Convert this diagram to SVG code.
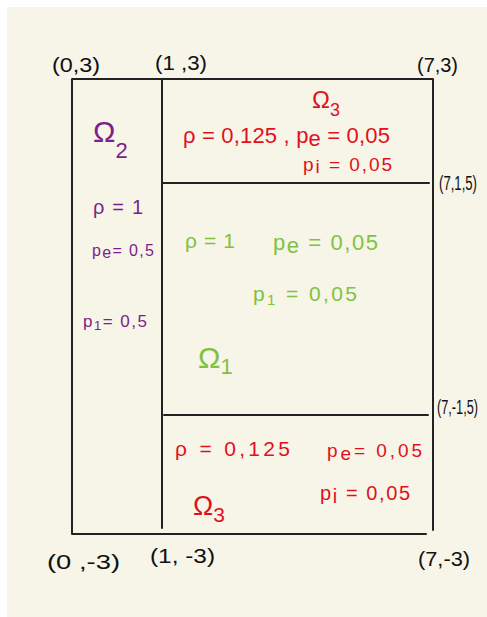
<svg xmlns="http://www.w3.org/2000/svg" width="487" height="617" viewBox="0 0 487 617">
<style>
text{font-family:"Liberation Sans","DejaVu Sans",sans-serif}
.k{fill:#111;font-size:20px}
.r{fill:#e0101c}
.g{fill:#7fc241}
.p{fill:#7c1f88}
.ln{stroke:#222;stroke-width:2;fill:none;stroke-linecap:round}
</style>
<rect x="0" y="0" width="487" height="617" fill="#ffffff"/>
<rect x="7" y="7" width="480" height="610" fill="#f7f4e8"/>
<g id="connectors">
<path class="ln" d="M72 79 H432 M72 79 V533 M72 534 H426 M433 79 V530"/>
<path class="ln" d="M162 79 V528"/>
<path class="ln" d="M163 183 H429"/>
<path class="ln" d="M164 415 H428"/>
</g>
<g id="coords">
<text class="k" x="52" y="72" textLength="48" lengthAdjust="spacingAndGlyphs">(0,3)</text>
<text class="k" x="155" y="70" textLength="52" lengthAdjust="spacingAndGlyphs">(1 ,3)</text>
<text class="k" x="417" y="72" textLength="41" lengthAdjust="spacingAndGlyphs">(7,3)</text>
<text class="k" x="439" y="190" font-size="18" textLength="38" lengthAdjust="spacingAndGlyphs">(7,1,5)</text>
<text class="k" x="437" y="414" font-size="18" textLength="41" lengthAdjust="spacingAndGlyphs">(7,-1,5)</text>
<text class="k" x="47" y="569" textLength="73" lengthAdjust="spacingAndGlyphs">(0 ,-3)</text>
<text class="k" x="150" y="563" textLength="65" lengthAdjust="spacingAndGlyphs">(1, -3)</text>
<text class="k" x="418" y="566" textLength="52" lengthAdjust="spacingAndGlyphs">(7,-3)</text>
</g>
<g id="omega2" class="p">
<text x="93" y="142" font-size="30">Ω<tspan dy="16" font-size="22">2</tspan></text>
<text x="93" y="214" font-size="20" textLength="50" lengthAdjust="spacing">ρ = 1</text>
<text x="92" y="256" font-size="16" textLength="62" lengthAdjust="spacing">p<tspan dy="2">e</tspan><tspan dy="-2">= 0,5</tspan></text>
<text x="83" y="327" font-size="17" textLength="64" lengthAdjust="spacing">p<tspan dy="3" font-size="13">1</tspan><tspan dy="-3">= 0,5</tspan></text>
</g>
<g id="omega1" class="g">
<text x="185" y="248" font-size="21" textLength="50" lengthAdjust="spacing">ρ = 1</text>
<text x="273" y="250" font-size="22" textLength="105" lengthAdjust="spacing">p<tspan dy="3">e</tspan><tspan dy="-3"> = 0,05</tspan></text>
<text x="253" y="301" font-size="21" textLength="104" lengthAdjust="spacing">p<tspan dy="4" font-size="15">1</tspan><tspan dy="-4"> = 0,05</tspan></text>
<text x="198" y="368" font-size="30">Ω<tspan dy="6" font-size="22">1</tspan></text>
</g>
<g id="omega3-top" class="r">
<text x="312" y="108" font-size="24">Ω<tspan dy="8" font-size="18">3</tspan></text>
<text x="183" y="143" font-size="22" textLength="207" lengthAdjust="spacing">ρ = 0,125 , p<tspan dy="3">e</tspan><tspan dy="-3"> = 0,05</tspan></text>
<text x="303" y="171" font-size="19" textLength="89" lengthAdjust="spacing">p<tspan dy="2">i</tspan><tspan dy="-2"> = 0,05</tspan></text>
</g>
<g id="omega3-bottom" class="r">
<text x="175" y="456" font-size="21" textLength="115" lengthAdjust="spacing">ρ = 0,125</text>
<text x="327" y="457" font-size="19" textLength="95" lengthAdjust="spacing">p<tspan dy="3">e</tspan><tspan dy="-3">= 0,05</tspan></text>
<text x="320" y="500" font-size="20" textLength="90" lengthAdjust="spacing">p<tspan dy="3">i</tspan><tspan dy="-3"> = 0,05</tspan></text>
<text x="193" y="515" font-size="27">Ω<tspan dy="7" font-size="21">3</tspan></text>
</g>
</svg>
